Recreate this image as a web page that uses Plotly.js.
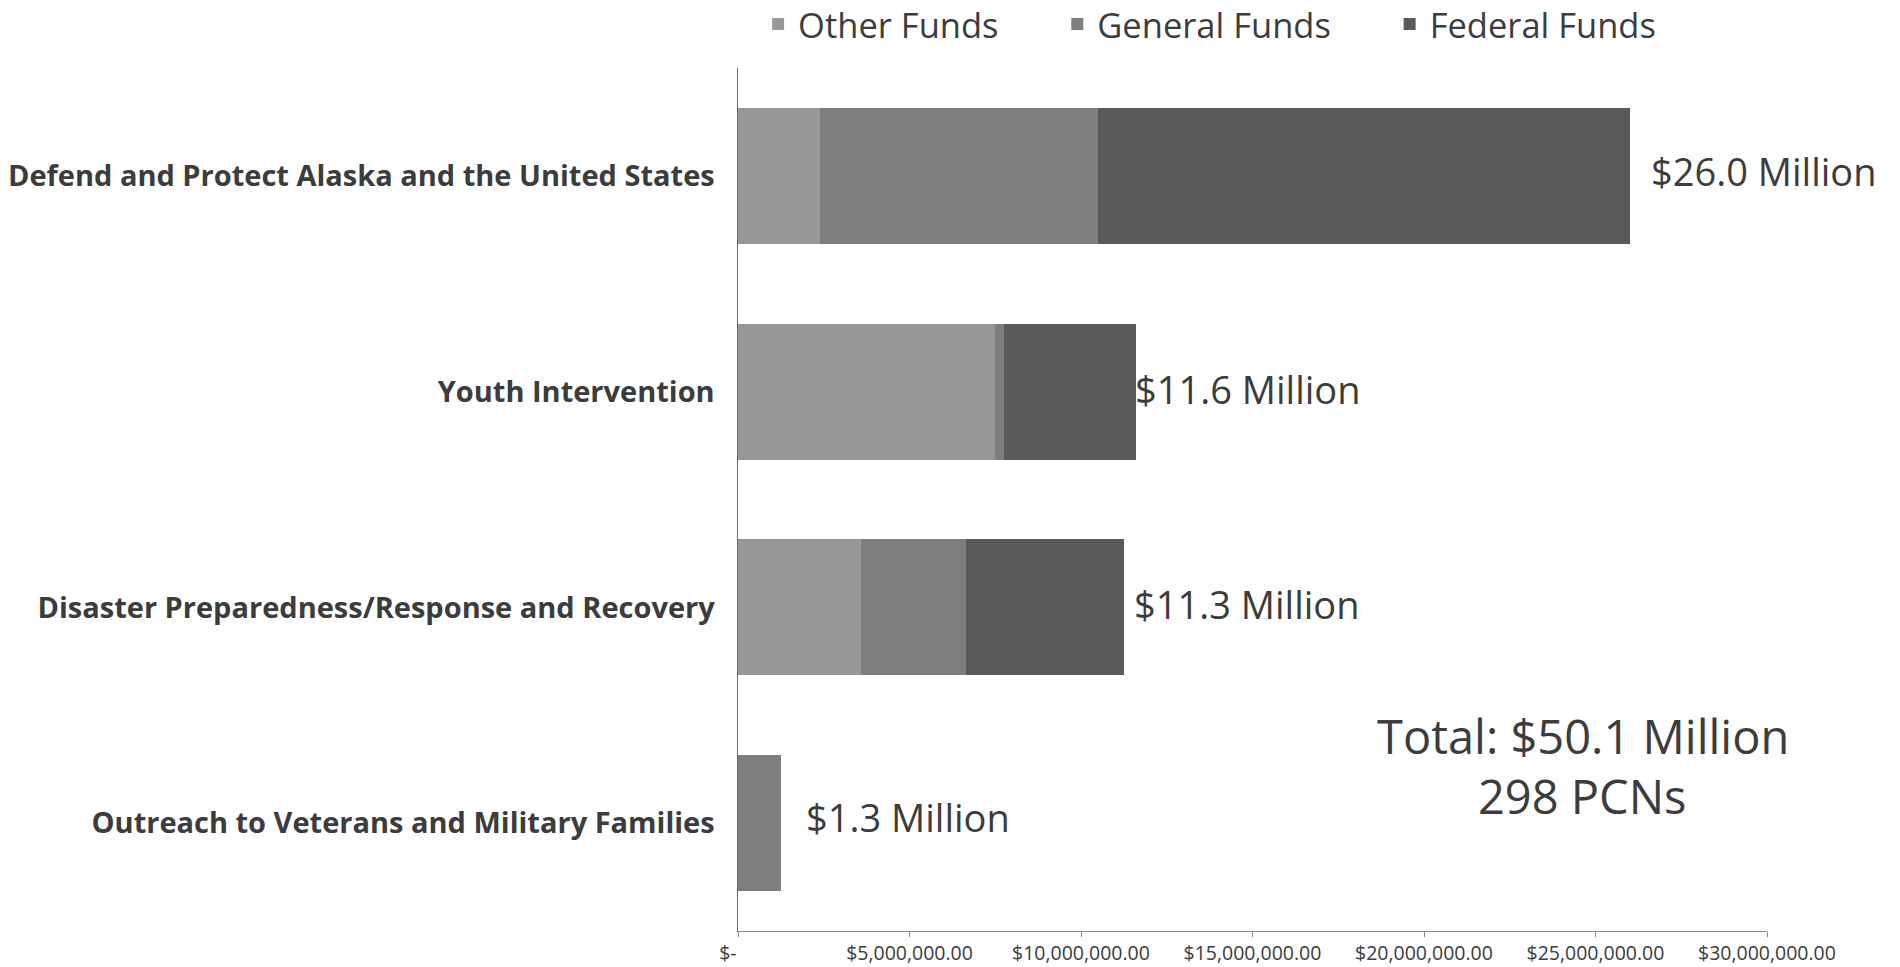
<!DOCTYPE html>
<html>
<head>
<meta charset="utf-8">
<script src="https://cdn.plot.ly/plotly-3.0.1.min.js"></script>
<style>
html,body{margin:0;padding:0;background:#fff;}
#chart{width:1900px;height:967px;}
</style>
</head>
<body>
<div id="chart"></div>
<script>
// Data (values in dollars)
const categories = [
  "Defend and Protect Alaska and the United States",
  "Youth Intervention",
  "Disaster Preparedness/Response and Recovery",
  "Outreach to Veterans and Military Families"
];
const otherFunds   = [2400000, 7500000, 3600000, 0];
const generalFunds = [8100000, 250000, 3050000, 1250000];
const federalFunds = [15500000, 3850000, 4600000, 0];
const totalLabels  = ["$26.0 Million", "$11.6 Million", "$11.3 Million", "$1.3 Million"];
const seriesNames  = ["Other Funds", "General Funds", "Federal Funds"];
const tickValues   = [0, 5000000, 10000000, 15000000, 20000000, 25000000, 30000000];
const tickLabels   = ["$-", "$5,000,000.00", "$10,000,000.00", "$15,000,000.00", "$20,000,000.00", "$25,000,000.00", "$30,000,000.00"];
const totalNote    = ["Total: $50.1 Million", "298 PCNs"];

const FONT = "'Open Sans', sans-serif";
const TXT = "#3c3c3c";
const barWidth = 0.63;
const pad = "&nbsp;&nbsp;&nbsp;&nbsp;&nbsp;&nbsp;";

const traces = [
  {type:"bar", orientation:"h", name:seriesNames[0] + pad, y:categories, x:otherFunds,
   marker:{color:"#989898"}, width:barWidth},
  {type:"bar", orientation:"h", name:seriesNames[1] + pad, y:categories, x:generalFunds,
   marker:{color:"#7e7e7e"}, width:barWidth},
  {type:"bar", orientation:"h", name:seriesNames[2], y:categories, x:federalFunds,
   marker:{color:"#5a5a5a"}, width:barWidth}
];

const totals = categories.map((c,i)=>otherFunds[i]+generalFunds[i]+federalFunds[i]);
const labelShift = [19, -3, 8, 23];
const labelYShift = [5, 3, 3, 6];

const annotations = categories.map((c,i)=>({
  x: totals[i], y: c, xref:"x", yref:"y", text: totalLabels[i],
  showarrow:false, xanchor:"left", yanchor:"middle", xshift:labelShift[i], yshift:labelYShift[i],
  font:{family:FONT, size:38, color:TXT}
}));
annotations.push({
  x:0.821, y:0.2265, xref:"paper", yref:"paper", text: totalNote[0],
  showarrow:false, xanchor:"center", yanchor:"middle",
  font:{family:FONT, size:47, color:TXT}
});
annotations.push({
  x:0.821, y:0.156, xref:"paper", yref:"paper", text: totalNote[1],
  showarrow:false, xanchor:"center", yanchor:"middle",
  font:{family:FONT, size:47, color:TXT}
});

const layout = {
  width:1900, height:967,
  margin:{l:738, r:133, t:68, b:36},
  paper_bgcolor:"#ffffff", plot_bgcolor:"#ffffff",
  barmode:"stack",
  showlegend:true,
  legend:{orientation:"h", xref:"container", yref:"container",
          x:0.399, xanchor:"left", y:0.975, yanchor:"middle",
          font:{family:FONT, size:34.5, color:TXT}, traceorder:"normal",
          bgcolor:"rgba(0,0,0,0)"},
  xaxis:{range:[0,30000000], tickvals:tickValues,
         ticktext:tickLabels.map((t,i)=> i===0 ? t + "&nbsp;&nbsp;&nbsp;&nbsp;" : t),
         showgrid:false, zeroline:false, showline:true, linecolor:"#8a8a8a", linewidth:1,
         ticks:"outside", ticklen:5, tickcolor:"#8a8a8a",
         tickfont:{family:FONT, size:19.5, color:TXT}, fixedrange:true},
  yaxis:{type:"category", categoryorder:"array", categoryarray:categories, autorange:"reversed",
         showgrid:false, zeroline:false, showline:true, linecolor:"#6a6a6a", linewidth:1.5,
         ticks:"", ticklabelstandoff:16,
         tickfont:{family:FONT, size:29, color:TXT, weight:"bold"}, fixedrange:true},
  annotations:annotations,
  font:{family:FONT}
};

Plotly.newPlot("chart", traces, layout, {displayModeBar:false, staticPlot:true});
</script>
</body>
</html>
